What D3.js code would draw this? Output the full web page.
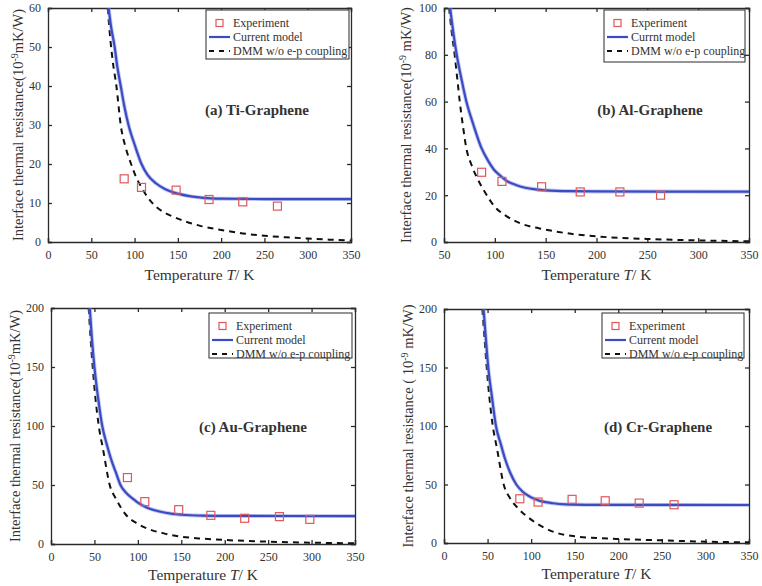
<!DOCTYPE html>
<html><head><meta charset="utf-8">
<script src="https://cdn.jsdelivr.net/npm/d3@7"></script>
<style>body{margin:0;background:#fff}svg{display:block}text{font-family:"Liberation Serif","Times New Roman",serif;fill:#333}</style>
</head><body><svg id="c" width="762" height="586"></svg>
<script>
// ---- Data ----
const expA = [[88,16.2],[108,14.0],[148,13.3],[186,10.9],[225,10.3],[265,9.2]];
const modelA = [[70,60],[73,55],[77,50],[80,45],[84,40],[88,35],[93,30],[100,25],[108,20],[115,17.2],[125,15],[135,13.6],[150,12.4],[165,11.7],[180,11.3],[200,11.1],[250,11.0],[350,11.0]];
const dmmA = [[69,60],[72,52],[75,46],[79,40],[84,30],[90,24],[96,20],[102,16.5],[108,14],[115,11.5],[125,9],[135,7.5],[150,6],[175,4.2],[200,3.1],[225,2.2],[250,1.6],[275,1.2],[300,0.9],[325,0.6],[350,0.4]];

const expB = [[87,29.8],[107,25.9],[146,23.6],[184,21.4],[223,21.4],[263,20.0]];
const modelB = [[56,100],[59,90],[62.5,80],[67,70],[72,60],[79,50],[87,40],[93,35],[99,31],[105,28.5],[112,26],[120,24.5],[130,23.2],[140,22.5],[150,22.1],[175,21.7],[200,21.6],[350,21.5]];
const dmmB = [[55,100],[57.5,90],[60.5,80],[63,70],[65.5,60],[68.5,50],[72,40],[77,33],[83,27],[90,21.5],[100,15],[110,11.5],[125,8],[150,5.3],[175,3.5],[200,2.4],[250,1.3],[300,0.7],[350,0.3]];

const expC = [[88,56.3],[108,35.9],[147,29.1],[184,24.3],[223,21.8],[263,23.2],[298,20.9]];
const modelC = [[44.6,200],[47,175],[50,150],[54,125],[59,100],[64,85],[70,70],[75,60],[80,50],[87,43],[95,38],[100,35],[110,31],[125,27.5],[140,25.5],[150,24.8],[175,24],[200,23.8],[350,23.7]];
const dmmC = [[43.4,200],[45.5,175],[48,150],[51,125],[55,100],[60,80],[67.6,50],[75,38],[86,25],[100,17],[115,12],[130,9],[150,6.2],[175,4.5],[200,3.4],[250,2],[300,1.1],[350,0.6]];

const expD = [[87,37.8],[108,35.0],[147,37.3],[185,36.1],[224,34.1],[264,32.7]];
const modelD = [[45.4,200],[48,175],[50.8,150],[55,125],[59.6,100],[65,85],[70,72],[76,60],[83,50],[90,44],[100,39],[110,36],[125,34],[140,33],[150,32.8],[175,32.6],[350,32.5]];
const dmmD = [[44,200],[46.5,175],[49,150],[52,125],[56,100],[61,80],[68.5,50],[76,38],[84.6,30],[100,20],[115,13],[130,8.5],[150,5.7],[175,4.3],[200,3.4],[250,2.3],[300,1.1],[350,0.6]];

const xTicksA = [0,50,100,150,200,250,300,350];
const xTicksB = [50,100,150,200,250,300,350];
const yTicksA = [0,10,20,30,40,50,60];
const yTicksB = [0,20,40,60,80,100];
const yTicksC = [0,50,100,150,200];

const legendStd = ["Experiment","Current model","DMM w/o e-p coupling"];
const legendB = ["Experiment","Currnt model","DMM w/o e-p coupling"];
const titles = ["(a) Ti-Graphene","(b) Al-Graphene","(c) Au-Graphene","(d) Cr-Graphene"];

// ---- Drawing ----
const svg = d3.select("#c");
const BLUE = "#3a4bc4", RED = "#e0575a", AX = "#2a2a2a";

function panel(o, idx){
  const g = svg.append("g");
  const x = d3.scaleLinear().domain(o.xd).range([o.l, o.r]);
  const y = d3.scaleLinear().domain(o.yd).range([o.b, o.t]);
  const cid = "clip"+idx;
  g.append("clipPath").attr("id",cid).append("rect").attr("x",o.l).attr("y",o.t).attr("width",o.r-o.l).attr("height",o.b-o.t);

  const tl = 4;
  g.append("g").attr("transform",`translate(0,${o.b})`).call(d3.axisBottom(x).tickValues(o.xt).tickSize(-tl).tickPadding(8).tickFormat(d3.format("d")));
  g.append("g").attr("transform",`translate(0,${o.t})`).call(d3.axisTop(x).tickValues(o.xt).tickSize(-tl).tickFormat(""));
  g.append("g").attr("transform",`translate(${o.l},0)`).call(d3.axisLeft(y).tickValues(o.yt).tickSize(-tl).tickPadding(7).tickFormat(d3.format("d")));
  g.append("g").attr("transform",`translate(${o.r},0)`).call(d3.axisRight(y).tickValues(o.yt).tickSize(-tl).tickFormat(""));
  g.selectAll(".domain").attr("stroke",AX).attr("stroke-width",1.3);
  g.selectAll(".tick line").attr("stroke",AX).attr("stroke-width",1.3);
  g.selectAll(".tick text").attr("font-size",12).attr("font-family","Liberation Serif").attr("fill","#333");

  const line = d3.line().x(d=>x(d[0])).y(d=>y(d[1])).curve(d3.curveMonotoneX);
  const pg = g.append("g").attr("clip-path",`url(#${cid})`);
  pg.append("path").datum(o.dmm).attr("d",line).attr("fill","none").attr("stroke","#111").attr("stroke-width",2).attr("stroke-dasharray","6,5");
  pg.append("path").datum(o.model).attr("d",line).attr("fill","none").attr("stroke","#8a95e0").attr("stroke-width",4).attr("opacity",0.5);
  pg.append("path").datum(o.model).attr("d",line).attr("fill","none").attr("stroke",BLUE).attr("stroke-width",2.2);
  g.append("g").selectAll("rect").data(o.exp).join("rect")
    .attr("x",d=>x(d[0])-4).attr("y",d=>y(d[1])-4).attr("width",8).attr("height",8)
    .attr("fill","none").attr("stroke",RED).attr("stroke-width",1.2);

  g.append("text").attr("x",o.tx).attr("y",o.ty).attr("text-anchor","middle").attr("font-size",15).attr("font-weight","bold").attr("fill","#222").text(o.title);

  const xl = g.append("text").attr("x",(o.l+o.r)/2 + o.xlOff).attr("y",o.xly).attr("text-anchor","middle").attr("font-size",15.5);
  xl.append("tspan").text("Temperature  ");
  xl.append("tspan").attr("font-style","italic").text("T");
  xl.append("tspan").text("/ K");

  const yl = g.append("text").attr("transform",`translate(${o.ylx},${(o.t+o.b)/2+o.ylOff}) rotate(-90)`).attr("text-anchor","middle").attr("font-size",14.5);
  yl.append("tspan").text(o.ylPre);
  yl.append("tspan").attr("font-size",10).attr("dy",-5).text("-9");
  yl.append("tspan").attr("dy",5).text(o.ylPost);

  const L = o.leg;
  const lg = g.append("g");
  lg.append("rect").attr("x",L.x).attr("y",L.y).attr("width",L.w).attr("height",L.h).attr("fill","#fff").attr("stroke",AX).attr("stroke-width",1);
  const rows = [L.y+13, L.y+27, L.y+41];
  const sx0 = L.x+3, sx1 = L.x+24, tx = L.x+27;
  lg.append("rect").attr("x",(sx0+sx1)/2-3.5).attr("y",rows[0]-3.5).attr("width",7).attr("height",7).attr("fill","none").attr("stroke",RED).attr("stroke-width",1.2);
  lg.append("line").attr("x1",sx0).attr("x2",sx1).attr("y1",rows[1]).attr("y2",rows[1]).attr("stroke",BLUE).attr("stroke-width",2.2);
  lg.append("line").attr("x1",sx0).attr("x2",sx1).attr("y1",rows[2]).attr("y2",rows[2]).attr("stroke","#111").attr("stroke-width",2).attr("stroke-dasharray","5,5");
  o.legend.forEach((t,i)=>{
    lg.append("text").attr("x",tx).attr("y",rows[i]+4).attr("font-size",12).text(t);
  });
}

panel({xd:[0,350],yd:[0,60],l:48,r:351,t:8,b:242,xt:xTicksA,yt:yTicksA,exp:expA,model:modelA,dmm:dmmA,
  title:titles[0],tx:257,ty:115,xlOff:0,xly:280,ylx:23,ylOff:0,ylPre:"Interface thermal resistance(10",ylPost:"mK/W)",
  leg:{x:206,y:10,w:143,h:49},legend:legendStd},0);
panel({xd:[50,350],yd:[0,100],l:444,r:749,t:8,b:242,xt:xTicksB,yt:yTicksB,exp:expB,model:modelB,dmm:dmmB,
  title:titles[1],tx:650,ty:115,xlOff:0,xly:280,ylx:411,ylOff:0,ylPre:"Interface thermal resistance(10",ylPost:" mK/W)",
  leg:{x:604,y:10,w:141,h:52},legend:legendB},1);
panel({xd:[0,350],yd:[0,200],l:51,r:355,t:308,b:544,xt:xTicksA,yt:yTicksC,exp:expC,model:modelC,dmm:dmmC,
  title:titles[2],tx:253,ty:432,xlOff:0,xly:580,ylx:20,ylOff:0,ylPre:"Interface thermal resistance(10",ylPost:"mK/W)",
  leg:{x:209,y:313,w:143,h:45},legend:legendStd},2);
panel({xd:[0,350],yd:[0,200],l:444,r:749,t:309,b:543,xt:xTicksA,yt:yTicksC,exp:expD,model:modelD,dmm:dmmD,
  title:titles[3],tx:658,ty:432,xlOff:0,xly:579,ylx:413,ylOff:0,ylPre:"Interface thermal resistance ( 10",ylPost:" mK/W)",
  leg:{x:602,y:313,w:142,h:45},legend:legendStd},3);
</script></body></html>
